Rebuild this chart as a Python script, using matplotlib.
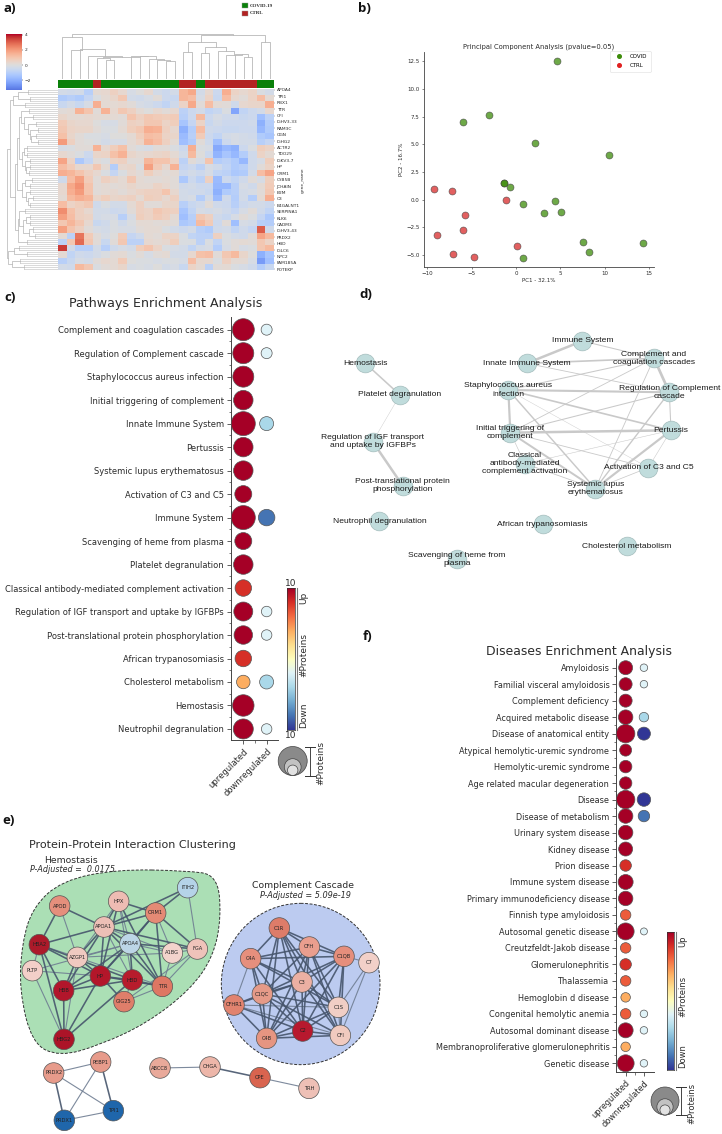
import numpy as np
import matplotlib
matplotlib.use('Agg')
import matplotlib.pyplot as plt
from matplotlib.colors import Normalize
from matplotlib.lines import Line2D
from matplotlib.patches import Ellipse, PathPatch, Rectangle
from matplotlib.path import Path

W, H = 722, 1134

# a) heatmap
gene_labels = ['APOA4', 'TPI1', 'RBX1', 'TTR', 'CFI', 'IGHV3-33', 'RAM3C', 'OGN', 'IGHG2', 'ACTR2',
               'TDO29', 'IGKV3-7', 'HP', 'ORM1', 'CYB5B', 'JCHAIN', 'B2M', 'C3', 'B4GALNT1', 'SERPINA1',
               'KLK6', 'CADM3', 'IGHV3-43', 'PRDX2', 'HBD', 'IGLC6', 'NPC2', 'FAM185A', 'POTEKP']
heat = [
    [-.3, -.4, -.3, -1, .2, .3, .6, .3, -.2, 0, .3, -.3, -.5, -.3, 1.4, 1.7, -.3, .3, -.5, 1.6, .5, .3, .5, -.1, -.3],
    [-1.2, -1, -1.2, -.7, -.1, .2, .4, .9, -.3, -.4, -.2, .1, -.5, -.6, 1.4, 1.2, -.2, .5, -.6, 1.2, .3, .1, .5, 1.2, .2],
    [-.6, -.3, -.6, -.2, 1.6, .2, .2, .3, .1, -.2, -.3, -.5, -.8, -.4, .5, 1.7, .1, 1.2, .2, .1, -.4, .3, .4, .4, 1.6],
    [.1, .2, 1.5, 1, .1, 1.5, .3, .9, .6, .2, 0, .3, .1, .3, -.9, -.5, -.3, -.8, -.6, -.1, -2.3, -.8, -.5, -.3, .3],
    [.4, .2, .2, .3, .2, .2, .2, .1, 1, .6, .9, .8, .7, .8, -1, -.5, 1.3, -.5, -.2, -.4, -.4, -.6, -.5, -1.6, -.9],
    [.8, .4, .3, .3, 0, -.2, -.2, .1, .6, .5, .9, .9, .5, .7, -1.4, -.7, .5, -.6, -.3, -.5, -.5, -.5, -.4, -2, -1.1],
    [.9, .5, .4, .4, .1, -.1, -.1, .2, .7, .9, 1.6, 1.5, .6, .3, -2, -1.1, 1.2, -.4, -.5, -.6, -.6, -.5, -.5, -1.8, -1.2],
    [1.1, .4, .1, -.1, -.1, -.2, 0, 0, .2, .7, 1.2, 1.1, .5, .4, -1.7, -1, .8, -.5, -.8, -.3, -.2, -.3, -.4, -1.2, -1.4],
    [2, .6, .1, 0, -.1, -.3, -.2, -.2, .2, .5, 1.5, 1.2, .6, .2, -1.6, -1.2, .1, -.4, -1.6, -.5, -.2, -.3, -.3, -1, -.7],
    [-.2, -.1, .1, .1, 1.5, .3, .7, 1.1, .1, -.1, -.2, .1, .1, -.1, -.5, 1.6, -.1, -.2, -2.2, -1.8, -2, -.5, -.1, .7, .5],
    [.3, .1, -.1, -.5, .4, .5, 1.1, 1.5, .4, .2, .3, .4, .5, .2, -.3, 1.3, 0, -.5, -1.9, -1.4, -1.8, -1.1, -.4, .5, .2],
    [1.8, .5, -1.3, -.7, .1, -.1, .5, .6, .1, .1, 1.4, 1, 1, .5, -.9, .1, -.2, 1, -1.1, -.9, -1.2, -1.8, -.4, -.2, .7],
    [1.2, .8, .3, .3, .9, .2, -1.1, .3, .4, -.1, 1.9, .8, .3, 1.5, -.7, -.5, -.9, -.2, -.4, -.8, -1.2, -1, -.4, .1, .5],
    [1.6, 1.4, 1, .6, .3, -.1, -.7, -.1, .3, .1, .7, .3, .1, .2, -.5, -.3, -.5, -.2, -.8, -.9, -1.3, -1.2, -.3, 1.2, 1.8],
    [-.4, 1.2, 1.9, .8, .1, .6, .4, .2, .9, .2, .1, .1, .2, .1, -1.3, -.5, -.9, .6, -1.7, -.5, -.8, -.4, .1, -.2, .7],
    [.3, 1.7, 2.2, 1, .1, .2, .1, .2, .4, .2, .2, .5, .3, .1, -.4, -.3, -.5, -.5, -1.8, -1.8, -1, -.2, -.4, .2, .8],
    [.3, 1.6, 2, 1, .1, .2, .3, .1, .3, .5, .6, .6, 1, .3, -.3, -.4, -.4, -.6, -2, -1.2, -1, -.3, -.2, .1, .9],
    [.2, 1.3, 1.6, 1.4, .4, .7, .4, .5, .6, .2, .7, .6, .3, .6, -.3, -.2, -1.1, -.3, -1.7, -.4, -1.1, -.3, -1.1, .2, 1.6],
    [1.2, .5, .7, .9, -.4, -.1, -.3, -.3, .2, .6, .1, .1, .4, .4, -1, -.6, -.4, .1, -.4, -.5, -1, -.5, -.3, -.3, -.5],
    [2.3, 1.1, .6, .3, -.3, -.3, -.5, -.4, .1, .6, .5, .9, .7, .6, -1.4, -.8, -.2, -.3, -.2, -.4, -.7, -.2, .1, -.4, -.8],
    [1.9, 1.2, .6, .5, -.3, -.2, -.2, -1, -.2, .7, .5, .8, .6, .2, -1.6, -1, .9, .6, -.4, -.6, -.2, .1, -.1, -.7, -1.3],
    [.9, 1.4, .9, .3, -.6, -.4, -.1, -.4, -.1, .2, .2, .1, .2, .1, -1.3, -1.1, 1.3, .8, -.5, .1, -1.6, -.2, -.3, -1, -1.1],
    [1.9, 1, .6, .1, -.2, -.3, -.1, -.2, -.2, .1, .2, .2, -.1, -.3, -.5, -.3, -1, -1.2, -.4, -.3, -.8, -.4, -.7, 3.1, -.4],
    [.2, -.9, 2.7, .8, .1, -.2, 0, .8, -.7, -.4, .2, .1, .5, .5, -.1, -.8, -.9, -.9, .6, -.1, -.3, -.4, .1, 1.8, 1.3],
    [-.9, .9, 2.9, .9, .1, -.6, .1, .9, -.9, -.9, .3, .2, .3, .7, -.1, -.1, -.9, -.1, -.8, -.1, .1, .2, .1, .9, .5],
    [3.6, -.3, -1, -1, -.3, -1, -.4, -.2, -.3, .7, 1, .5, -.1, -.2, -.3, -.8, -.3, -.2, -1.1, -.2, .1, -.2, -.1, .9, 1.3],
    [.2, -.8, -.4, -.5, -.3, -.1, .1, .2, -.1, .1, -.2, .1, .2, -.3, -.3, .3, 1.1, 1.2, .1, .9, 1.3, .4, 0, -2, -1.4],
    [-1, -.6, -.2, -.3, .1, .3, .2, .8, 0, -.1, -.1, -.2, -.1, -.1, -.2, 1.2, .3, .3, -.1, .6, .2, .2, -.2, -2.5, -1.6],
    [-.3, -.4, 1.3, .9, -.1, .1, .2, .4, -.2, -.1, -.2, 0, -.3, -.2, -.6, .5, .2, -.9, .1, .2, -.1, -.2, -.4, -1.1, -.6],
]
# 1 covid, 0 ctrl, per column
col_groups = [1, 1, 1, 1, 0, 1, 1, 1, 1, 1, 1, 1, 1, 1, 0, 0, 1, 0, 0, 0, 0, 0, 0, 1, 1]
# column tree: left x, left height, right x, right height, top
col_links = [
    (5, 0, 6, 0, 18.7), (4, 0, 5.5, 18.7, 20.3), (12, 0, 13, 0, 18), (11, 0, 12.5, 18, 18.7),
    (10, 0, 11.75, 18.7, 19.3), (9, 0, 10.9, 19.3, 22.3), (8, 0, 9.9, 22.3, 23), (4.75, 20.3, 9, 23, 21.3),
    (3, 0, 6.9, 21.3, 22.7), (2, 0, 4.95, 22.7, 30), (1, 0, 2.3, 28.3, 28.3), (0, 0, 2.3, 28.3, 41.3),
    (14, 0, 15, 0, 26.3), (16, 0, 17, 0, 26), (21, 0, 22, 0, 21.7), (20, 0, 21.5, 21.7, 24.3),
    (19, 0, 20.75, 24.3, 24), (18, 0, 19.9, 24, 27.3), (16.5, 26, 19, 27.3, 31.7), (14.5, 26.3, 17.8, 31.7, 36.3),
    (23, 0, 24, 0, 36.3), (16.1, 36.3, 23.5, 36.3, 44), (1.15, 41.3, 19.8, 44, 44.7),
]
# x (in pixels) where each row's twig starts
row_twig = [28, 30, 25, 29, 33, 36, 38, 36, 38, 27, 27, 30, 30, 29, 32, 30, 30, 33, 30, 25, 30, 30, 33, 35, 27, 19, 27, 20, 24]
row_tree = (7,
            (10,
             (13, (18, 0, 1), 2),
             (15,
              (17, (19, (21, 3, (24, 4, (28, 5, (30, 6, (31, 7, 8))))),
                    (22, (24, 9, 10), (25, 11, (26, 12, 13)))),
               (22, (25, 14, 15), (26, 16, (28, 17, 18)))),
              (18, (19, 19, (23, (26, 20, 21), (29, 22, 23))), 24))),
            (8, (14, 25, 26), (12, 27, 28)))

# b) PCA
covid_x = [4.6, -3, -5.95, 2.2, 10.5, -1.4, -1.3, -0.7, 0.8, 4.35, 3.2, 5.1, 7.6, 8.2, 14.35, 0.75]
covid_y = [12.5, 7.65, 7.0, 5.15, 4.05, 1.5, 1.55, 1.15, -0.35, -0.1, -1.2, -1.1, -3.8, -4.7, -3.95, -5.25]
ctrl_x = [-9.25, -7.2, -1.1, -5.7, -6, -8.85, 0.1, -7.05, -4.7]
ctrl_y = [1.0, 0.75, -0.05, -1.4, -2.7, -3.15, -4.2, -4.95, -5.2]

# c) pathways
path_labels = ['Complement and coagulation cascades', 'Regulation of Complement cascade',
               'Staphylococcus aureus infection', 'Initial triggering of complement', 'Innate Immune System',
               'Pertussis', 'Systemic lupus erythematosus', 'Activation of C3 and C5', 'Immune System',
               'Scavenging of heme from plasma', 'Platelet degranulation',
               'Classical antibody-mediated complement activation', 'Regulation of IGF transport and uptake by IGFBPs',
               'Post-translational protein phosphorylation', 'African trypanosomiasis', 'Cholesterol metabolism',
               'Hemostasis', 'Neutrophil degranulation']
path_up_size = [22, 21, 21, 19.5, 24, 19.5, 19.5, 17, 24, 17, 19.5, 16.5, 19, 18.5, 16.5, 13.5, 21.5, 20]
path_up_val = [10, 10, 10, 10, 10, 10, 10, 10, 10, 10, 10, 8, 10, 10, 8, 4, 10, 10]
path_down_size = [11, 11, 0, 0, 14, 0, 0, 0, 16.5, 0, 0, 0, 10.5, 10.5, 0, 14, 0, 10.5]
path_down_val = [-2, -2, 0, 0, -4, 0, 0, 0, -8, 0, 0, 0, -2, -2, 0, -4, 0, -2]

# f) diseases
dis_labels = ['Amyloidosis', 'Familial visceral amyloidosis', 'Complement deficiency', 'Acquired metabolic disease',
              'Disease of anatomical entity', 'Atypical hemolytic-uremic syndrome', 'Hemolytic-uremic syndrome',
              'Age related macular degeneration', 'Disease', 'Disease of metabolism', 'Urinary system disease',
              'Kidney disease', 'Prion disease', 'Immune system disease', 'Primary immunodeficiency disease',
              'Finnish type amyloidosis', 'Autosomal genetic disease', 'Creutzfeldt-Jakob disease', 'Glomerulonephritis',
              'Thalassemia', 'Hemoglobin d disease', 'Congenital hemolytic anemia', 'Autosomal dominant disease',
              'Membranoproliferative glomerulonephritis', 'Genetic disease']
dis_up_size = [14, 13, 13, 14.5, 18.5, 12, 12.5, 12.5, 18.5, 14.5, 14.5, 14, 11.5, 15, 14.5, 10.5, 17, 10.5, 11.5,
               10.5, 9.5, 10.5, 15, 9.5, 17]
dis_up_val = [10, 10, 10, 10, 10, 10, 10, 10, 10, 10, 10, 10, 8, 10, 10, 6.5, 10, 6.5, 8, 6.5, 4, 6.5, 10, 4, 10]
dis_down_size = [7.5, 7.5, 0, 9.5, 13, 0, 0, 0, 13.5, 11.5, 0, 0, 0, 0, 0, 0, 7, 0, 0, 0, 0, 7.5, 7.5, 0, 7.5]
dis_down_val = [-2, -2, 0, -4, -10, 0, 0, 0, -10, -8, 0, 0, 0, 0, 0, 0, -2, 0, 0, 0, 0, -2, -2, 0, -2]

# d) term network, layout
term_nodes = {
    'Hemostasis': (136, 220), 'Platelet degranulation': (240, 315),
    'Regulation of IGF transport\nand uptake by IGFBPs': (158, 455),
    'Post-translational protein\nphosphorylation': (248, 587), 'Neutrophil degranulation': (178, 694),
    'Scavenging of heme from\nplasma': (410, 808), 'Immune System': (787, 153), 'Innate Immune System': (620, 220),
    'Complement and\ncoagulation cascades': (1002, 205), 'Staphylococcus aureus\ninfection': (565, 300),
    'Regulation of Complement\ncascade': (1048, 307), 'Initial triggering of\ncomplement': (571, 428),
    'Pertussis': (1053, 421), 'Classical\nantibody-mediated\ncomplement activation': (615, 521),
    'Activation of C3 and C5': (985, 533), 'Systemic lupus\nerythematosus': (826, 596),
    'African trypanosomiasis': (668, 703), 'Cholesterol metabolism': (920, 768),
}
term_edges = [
    (0, 1, 1.5), (1, 2, .4), (2, 3, 2.4), (6, 7, 2.4), (6, 8, 1), (7, 8, 1.6), (7, 10, .8), (9, 8, 1),
    (9, 10, 2), (9, 12, 1.6), (9, 11, 2.1), (9, 15, 1.4), (9, 14, .4), (8, 10, 2.6), (8, 11, .8), (8, 15, .8),
    (10, 12, 1), (10, 11, 1), (10, 15, 1.3), (11, 12, 2.4), (11, 15, 1.9), (11, 14, .8), (11, 13, .6),
    (13, 12, .5), (13, 15, .8), (12, 14, .5), (12, 15, 2.1), (14, 15, .7),
]
term_names = list(term_nodes)

# e) protein network
prot_pos = {
    'ITIH2': (563, 263), 'HPX': (356, 304), 'ORM1': (467, 339), 'APOD': (179, 318), 'APOA1': (312, 381),
    'APOA4': (390, 431), 'HBA2': (118, 434), 'AZGP1': (232, 472), 'A1BG': (517, 459), 'FGA': (592, 447),
    'PLTP': (97, 512), 'HP': (301, 528), 'HBD': (397, 540), 'TTR': (487, 559), 'HBB': (191, 572),
    'GIG25': (372, 605), 'HBG2': (192, 718),
    'C1R': (838, 384), 'CFH': (928, 441), 'C1QB': (1032, 469), 'C7': (1107, 488), 'C4A': (752, 476),
    'C3': (906, 546), 'C1QC': (787, 582), 'C1S': (1015, 622), 'CFHR1': (702, 615), 'C2': (908, 693),
    'C4B': (800, 715), 'CFI': (1021, 706),
    'PEBP1': (302, 786), 'PRDX2': (161, 819), 'PRDX1': (193, 961), 'TPI1': (340, 932),
    'ABCC8': (480, 804), 'CHGA': (630, 801), 'CPE': (780, 833), 'TRH': (927, 865),
}
prot_color = {
    'ITIH2': '#b5d3e8', 'HPX': '#eebcb3', 'ORM1': '#e58a75', 'APOD': '#e58f7c', 'APOA1': '#edbfb6',
    'APOA4': '#bcd5e6', 'HBA2': '#ac1a2a', 'AZGP1': '#efc9c0', 'A1BG': '#f3d3cc', 'FGA': '#efc3ba',
    'PLTP': '#f3cfc8', 'HP': '#b3162a', 'HBD': '#b71c2c', 'TTR': '#de7763', 'HBB': '#b2162b',
    'GIG25': '#df7e6a', 'HBG2': '#ac1428',
    'C1R': '#dd7c69', 'CFH': '#ea9e8e', 'C1QB': '#e58e7c', 'C7': '#f2d0c8', 'C4A': '#e68f7d',
    'C3': '#ecb0a3', 'C1QC': '#e59a88', 'C1S': '#f1cec5', 'CFHR1': '#e1836f', 'C2': '#b7192e',
    'C4B': '#e69581', 'CFI': '#f1cabf',
    'PEBP1': '#e79b8b', 'PRDX2': '#e79b8b', 'PRDX1': '#1f66ab', 'TPI1': '#1f66ab',
    'ABCC8': '#e9a99a', 'CHGA': '#edb6a9', 'CPE': '#d9644f', 'TRH': '#eec0b6',
}
strong_edges = [
    'HPX-APOA1', 'HPX-ORM1', 'HPX-HP', 'ORM1-APOA1', 'ORM1-APOA4', 'ORM1-ITIH2', 'ORM1-TTR', 'ORM1-HP',
    'ITIH2-APOA1', 'APOD-APOA1', 'APOD-HBA2', 'APOA1-APOA4', 'APOA1-HP', 'APOA1-HBB', 'APOA1-TTR', 'APOA1-FGA',
    'APOA1-HBA2', 'APOA4-HP', 'APOA4-TTR', 'APOA4-HBB', 'APOA4-FGA', 'APOA4-HBD', 'HBA2-HBB', 'HBA2-HP', 'HBA2-HBD',
    'HBA2-HBG2', 'AZGP1-HP', 'AZGP1-HBB', 'HBB-HP', 'HBB-HBD', 'HBB-HBG2', 'HP-HBD', 'HP-TTR', 'HP-HBG2', 'HBD-TTR',
    'HBD-HBG2', 'HP-GIG25', 'HPX-TTR', 'ORM1-FGA', 'APOA1-AZGP1',
    'C1R-C4A', 'C1R-C1QC', 'C1R-C1QB', 'C1R-CFH', 'C1R-C3', 'C1R-C2', 'C1R-C4B', 'C1R-C1S', 'C1R-CFI',
    'CFH-C1QB', 'CFH-C4A', 'CFH-C3', 'CFH-C1QC', 'CFH-C2', 'CFH-C4B', 'CFH-C1S', 'CFH-CFI', 'C1QB-C4A', 'C1QB-C3',
    'C1QB-C1QC', 'C1QB-C2', 'C1QB-C4B', 'C1QB-C1S', 'C1QB-CFI', 'C4A-C3', 'C4A-C1QC', 'C4A-C2', 'C4A-C4B', 'C4A-C1S',
    'C3-C1QC', 'C3-C1S', 'C3-C2', 'C3-C4B', 'C3-CFI', 'C3-CFHR1', 'C1QC-C1S', 'C1QC-C2', 'C1QC-C4B', 'C1QC-CFI',
    'C1QC-CFHR1', 'C1S-C2', 'C1S-C4B', 'C2-C4B', 'C2-CFI', 'C4B-CFI', 'CFHR1-C2', 'CFHR1-C4B',
    'PRDX2-PRDX1', 'PEBP1-TPI1', 'CHGA-CPE',
]
light_edges = [
    'HPX-APOA4', 'HPX-AZGP1', 'HPX-HBD', 'ORM1-A1BG', 'ITIH2-FGA', 'APOD-AZGP1', 'APOA1-A1BG', 'APOA1-HBD',
    'APOA4-AZGP1', 'APOA4-A1BG', 'APOA4-PLTP', 'HBA2-AZGP1', 'HBA2-PLTP', 'AZGP1-TTR', 'AZGP1-A1BG', 'PLTP-HP',
    'PLTP-HBG2', 'HBD-GIG25', 'TTR-FGA', 'TTR-A1BG', 'TTR-GIG25', 'FGA-GIG25', 'A1BG-FGA', 'AZGP1-HBG2',
    'C7-C1S', 'C7-CFI', 'C7-C1QB', 'C4A-CFHR1', 'CFHR1-C1S', 'CFHR1-CFI', 'C1S-CFI',
    'PRDX2-PEBP1', 'PRDX2-TPI1', 'PRDX1-TPI1', 'PEBP1-PRDX1', 'ABCC8-CHGA', 'CPE-TRH',
]
# outline of the green cluster, control points
hull_x = [560, 652, 664, 640, 570, 440, 300, 178, 96, 58, 66, 98, 185, 350]
hull_y = [212, 225, 350, 470, 570, 670, 735, 770, 730, 570, 430, 322, 242, 208]

TXT = '#2b2b2b'
fig = plt.figure(figsize=(W / 100, H / 100), dpi=100)


def ax_px(l, t, r, b):
    return fig.add_axes([l / W, 1 - b / H, (r - l) / W, (b - t) / H])


def txt(x, y, s, **kw):
    kw.setdefault('ha', 'center')
    kw.setdefault('va', 'center')
    kw.setdefault('color', TXT)
    return fig.text(x / W, 1 - y / H, s, **kw)


for s, x, y in [('a)', 4, 8), ('b)', 358, 8), ('c)', 4, 298), ('d)', 359, 295), ('e)', 2, 821), ('f)', 363, 636)]:
    txt(x, y, s, ha='left', fontsize=9.5, fontweight='bold', family='Open Sans', color='#111111')

# ---- a) heatmap
heat_norm = Normalize(-4.1, 4.1)
ax = ax_px(58, 89.3, 274, 270)
ax.imshow(np.array(heat), cmap='coolwarm', norm=heat_norm, aspect='auto', interpolation='nearest')
ax.yaxis.tick_right()
ax.set_xticks([])
ax.set_yticks(np.arange(len(gene_labels)) * 1.028 - 0.4)
ax.set_yticklabels(gene_labels, fontsize=3.2, color=TXT)
ax.tick_params(axis='y', length=1, width=.3, pad=1, color='#555555')
for sp in ax.spines.values():
    sp.set_visible(False)

ax = ax_px(58, 80, 274, 88)
ax.imshow(np.array(col_groups)[None, :], cmap=matplotlib.colors.ListedColormap(['#b22222', '#0a800a']),
          aspect='auto', interpolation='nearest')
ax.axis('off')

ax = ax_px(58, 28, 274, 78.7)
for xl, yl, xr, yr, top in col_links:
    ax.plot([xl, xl, xr, xr], [yl, top, top, yr], color='#b8b8b8', lw=.6)
ax.set_xlim(-.5, 24.5)
ax.set_ylim(0, 50.7)
ax.axis('off')

ax = ax_px(0, 89.3, 58, 270)
ax.set_xlim(0, 58)
ax.set_ylim(len(row_twig), 0)
ax.axis('off')


def draw_row(node):
    if isinstance(node, int):
        tx = row_twig[node]
        for f in (.17, .5, .83):
            ax.plot([tx, 58], [node + f, node + f], color='#c4c4c4', lw=.45)
        ax.plot([tx, tx], [node + .17, node + .83], color='#bbbbbb', lw=.45)
        return node + .5, tx
    x0, a, b = node
    ya, xa = draw_row(a)
    yb, xb = draw_row(b)
    ax.plot([xa, x0, x0, xb], [ya, ya, yb, yb], color='#b4b4b4', lw=.5)
    return (ya + yb) / 2, x0


draw_row(row_tree)

ax = ax_px(6, 34, 22, 90)
cb_vals = np.linspace(4.1, -3.3, 128)
ax.imshow(cb_vals[:, None], cmap='coolwarm', norm=heat_norm, aspect='auto', extent=[0, 1, -3.3, 4.1])
ax.set_xticks([])
ax.yaxis.tick_right()
ax.set_yticks([4, 2, 0, -2])
ax.set_yticklabels(['4', '2', '0', '\u22122'], fontsize=3.2, color=TXT)
ax.tick_params(axis='y', length=1, width=.3, pad=1)
for sp in ax.spines.values():
    sp.set_visible(False)

txt(303, 180, 'gene_name', rotation=90, fontsize=3.2)
txt(250, 5.8, 'COVID-19', ha='left', fontsize=3.6, family='Liberation Serif', fontweight='bold')
txt(250, 13.2, 'CTRL', ha='left', fontsize=3.6, family='Liberation Serif', fontweight='bold')

# ---- b) PCA
ax = ax_px(424, 51.7, 654, 267)
ax.scatter(covid_x, covid_y, s=25, color='#3d8c0a', alpha=.75, edgecolor='#444444', linewidth=.5)
ax.scatter(ctrl_x, ctrl_y, s=25, color='#d92b2b', alpha=.75, edgecolor='#444444', linewidth=.5)
ax.set_xlim(-10.37, 15.56)
ax.set_ylim(-6.08, 13.37)
ax.set_yticks([-5, -2.5, 0, 2.5, 5, 7.5, 10, 12.5])
ax.set_yticklabels(['\u22125.0', '\u22122.5', '0.0', '2.5', '5.0', '7.5', '10.0', '12.5'])
ax.set_xticks([-10, -5, 0, 5, 10, 15])
ax.set_xticklabels(['\u221210', '\u22125', '0', '5', '10', '15'])
ax.tick_params(labelsize=4, length=1.6, width=.4, pad=1.5, colors=TXT)
ax.set_xlabel('PC1 - 32.1%', fontsize=4, color=TXT, labelpad=1.5)
ax.set_ylabel('PC2 - 16.7%', fontsize=4, color=TXT, labelpad=2)
ax.set_title('Principal Component Analysis (pvalue=0.05)', fontsize=4.85, color=TXT, pad=2.5)
ax.spines[['top', 'right']].set_visible(False)
ax.spines[['left', 'bottom']].set_linewidth(.6)
ax.spines[['left', 'bottom']].set_color('#444444')
handles = [Line2D([], [], ls='', marker='o', ms=2.6, color='#3d8c0a', label='COVID'),
           Line2D([], [], ls='', marker='o', ms=2.6, color='#e02020', label='CTRL')]
ax.legend(handles=handles, fontsize=4, loc='upper right', bbox_to_anchor=(.985, 1.005), borderaxespad=0,
          handletextpad=1, labelspacing=.8, borderpad=.6, framealpha=1, edgecolor='#dddddd').get_frame().set_linewidth(.4)


# ---- c) f) bubble panels
def dots(rect, labels, up_size, up_val, down_size, down_val, xlim, ylim, fs):
    ax = ax_px(*rect)
    y = np.arange(len(labels))
    up_size, down_size = np.array(up_size), np.array(down_size)
    keep = down_size > 0
    ax.scatter(np.zeros(len(y)), y, s=(up_size * .72) ** 2, c=up_val, cmap='RdYlBu_r', vmin=-10, vmax=10,
               edgecolor='#555555', linewidth=.5, clip_on=False, zorder=3)
    ax.scatter(np.ones(keep.sum()), y[keep], s=(down_size[keep] * .72) ** 2, c=np.array(down_val)[keep],
               cmap='RdYlBu_r', vmin=-10, vmax=10, edgecolor='#555555', linewidth=.5, clip_on=False, zorder=3)
    ax.set_xlim(*xlim)
    ax.set_ylim(*ylim)
    ax.set_yticks(y)
    ax.set_yticklabels(labels, fontsize=fs, color=TXT)
    ax.set_yticks(y[:-1] + .5, minor=True)
    ax.set_xticks([0, 1])
    ax.set_xticks([.5], minor=True)
    ax.set_xticklabels(['upregulated', 'downregulated'], fontsize=fs, rotation=45, ha='right',
                       rotation_mode='anchor', color=TXT)
    ax.tick_params(axis='both', which='major', length=3, width=.6, pad=2, color='#444444')
    ax.tick_params(axis='both', which='minor', length=1.8, width=.5, color='#444444')
    ax.spines[['top', 'right']].set_visible(False)
    ax.spines[['left', 'bottom']].set_linewidth(.7)
    ax.spines[['left', 'bottom']].set_color('#444444')
    ax.patch.set_alpha(0)
    return ax


def colorkey(l, t, r, b):
    ax = ax_px(l, t, r, b)
    ax.imshow(np.linspace(1, 0, 128)[:, None], cmap='RdYlBu_r', aspect='auto')
    ax.set_xticks([])
    ax.set_yticks([])
    for sp in ax.spines.values():
        sp.set_linewidth(.5)
        sp.set_color('#333333')


dots((230.7, 317, 278.3, 740), path_labels, path_up_size, path_up_val, path_down_size, path_down_val,
     (-.54, 1.5), (17.47, -.54), 6)
txt(165.7, 303, 'Pathways Enrichment Analysis', fontsize=9.1)
colorkey(287.3, 588.3, 295, 730)
txt(291, 583, '10', fontsize=6.5)
txt(291, 735.5, '10', fontsize=6.5)
txt(303.5, 598, 'Up', rotation=90, fontsize=6.5)
txt(303.5, 655, '#Proteins', rotation=90, fontsize=6.5)
txt(303.5, 715, 'Down', rotation=90, fontsize=6.5)

dots((616.3, 659.3, 654, 1071.7), dis_labels, dis_up_size, dis_up_val, dis_down_size, dis_down_val,
     (-.51, 1.55), (24.51, -.51), 5.85)
txt(579, 651, 'Diseases Enrichment Analysis', fontsize=8.9)
colorkey(667.3, 932.3, 674.3, 1070.3)
txt(683, 941.7, 'Up', rotation=90, fontsize=6)
txt(683, 996.7, '#Proteins', rotation=90, fontsize=6)
txt(683, 1056, 'Down', rotation=90, fontsize=6)

# size keys and rule lines drawn in one pixel-scaled overlay
over = ax_px(0, 0, W, H)
over.set_xlim(0, W)
over.set_ylim(H, 0)
over.axis('off')
over.patch.set_alpha(0)
over.add_patch(Rectangle((241.7, 3.3), 6.6, 5, fc='#0a800a', ec='#999999', lw=.3))
over.add_patch(Rectangle((241.7, 10.7), 6.6, 5, fc='#b22222', ec='#999999', lw=.3))
for cx, base, big, line_x, top, text_x, fs, bar_x, bar_t, bar_b in [
    (292.7, 775.5, 29, 310, 746.7, 320.7, 6.5, 297.3, 588, 730),
    (665, 1115, 28, 681, 1087, 691.7, 6, 676.3, 932, 1070),
]:
    for d, c in [(big, '#8a8a8a'), (big * .58, '#c2c2c2'), (big * .36, '#e2e2e2')]:
        over.add_patch(Ellipse((cx, base - d / 2), d, d, fc=c, ec='#444444', lw=.5))
    over.plot([line_x, line_x], [top, base], color='#444444', lw=.7)
    over.plot([line_x - 5, line_x + 5], [top, top], color='#333333', lw=.7)
    over.plot([line_x - 5, line_x + 5], [base, base], color='#333333', lw=.7)
    over.plot([bar_x, bar_x], [bar_t, bar_b], color='#777777', lw=.8)
    txt(text_x, (top + base) / 2 + 2, '#Proteins', rotation=90, fontsize=fs)

# ---- d) term network
ax = ax_px(320, 290, 722, 590)
ax.set_xlim(0, 1206)
ax.set_ylim(900, 0)
ax.axis('off')
ax.patch.set_alpha(0)
tx = [term_nodes[n][0] for n in term_names]
ty = [term_nodes[n][1] for n in term_names]
for a, b, w in term_edges:
    ax.plot([tx[a], tx[b]], [ty[a], ty[b]], color='#c9c9c9', lw=w * .75, zorder=1, solid_capstyle='round')
ax.scatter(tx, ty, s=(18.7 * .72) ** 2, color='#c0dcdc', edgecolor='#a3bcbc', linewidth=.5, zorder=2)
for n, x, y in zip(term_names, tx, ty):
    ax.text(x, y, n, ha='center', va='center', fontsize=6.1, family='Liberation Sans', color='#1a1a1a',
            linespacing=1.25, zorder=3)

# ---- e) protein network
ax = ax_px(0, 800, 380, 1134)
ax.set_xlim(0, 1140)
ax.set_ylim(1002, 0)
ax.axis('off')
ax.patch.set_alpha(0)
hx, hy = np.array(hull_x, float), np.array(hull_y, float)
mx, my = (hx + np.roll(hx, -1)) / 2, (hy + np.roll(hy, -1)) / 2
verts = [(mx[-1], my[-1])]
codes = [Path.MOVETO]
for i in range(len(hx)):
    verts += [(hx[i], hy[i]), (mx[i], my[i])]
    codes += [Path.CURVE3, Path.CURVE3]
ax.add_patch(PathPatch(Path(verts, codes), fc='#abdfb5', ec='#333333', ls=(0, (3, 1.6)), lw=.7, zorder=1))
ax.add_patch(Ellipse((902, 552), 476, 484, fc='#bccbf0', ec='#333333', ls=(0, (3, 1.6)), lw=.7, zorder=1,
                     clip_on=False))
for names, col, lw in [(light_edges, '#6f7d92', .8), (strong_edges, '#46556c', 1.15)]:
    for e in names:
        a, b = e.split('-')
        ax.plot([prot_pos[a][0], prot_pos[b][0]], [prot_pos[a][1], prot_pos[b][1]], color=col, lw=lw,
                alpha=.9, zorder=2)
names = list(prot_pos)
ax.scatter([prot_pos[n][0] for n in names], [prot_pos[n][1] for n in names], s=(20.6 * .72) ** 2,
           c=[prot_color[n] for n in names], edgecolor='#555555', linewidth=.5, zorder=3, clip_on=False)
for n in names:
    ax.text(prot_pos[n][0], prot_pos[n][1], n, ha='center', va='center', fontsize=3.7, color='#222222', zorder=4)

txt(132.7, 845, 'Protein-Protein Interaction Clustering', fontsize=8)
txt(71, 860.5, 'Hemostasis', fontsize=6.7)
txt(73, 869.7, 'P-Adjusted =  0.0175', fontsize=5.8, style='italic')
txt(303, 885, 'Complement Cascade', fontsize=6.7)
txt(305, 895, 'P-Adjusted = 5.09e-19', fontsize=5.9, style='italic')

fig.savefig('out.png', dpi=100)
